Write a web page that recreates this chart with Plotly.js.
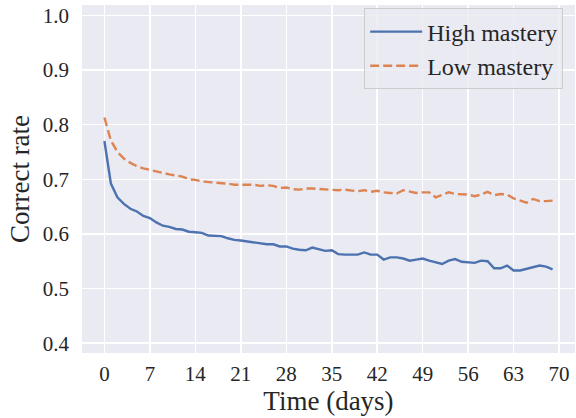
<!DOCTYPE html>
<html>
<head>
<meta charset="utf-8">
<script src="https://cdn.plot.ly/plotly-3.0.1.min.js"></script>
<style>
html,body{margin:0;padding:0;background:#ffffff;}
#chart{width:576px;height:418px;}
</style>
</head>
<body>
<div id="chart"></div>
<script>
var days = [];
for (var d = 0; d < 70; d++) { days.push(d); }

var highMastery = [
  0.770, 0.692, 0.667, 0.655, 0.646, 0.641, 0.633, 0.629, 0.621, 0.615,
  0.613, 0.609, 0.608, 0.604, 0.603, 0.602, 0.597, 0.596, 0.596, 0.592,
  0.589, 0.588, 0.586, 0.585, 0.582, 0.581, 0.581, 0.577, 0.577, 0.573,
  0.571, 0.570, 0.575, 0.572, 0.569, 0.570, 0.563, 0.562, 0.562, 0.562,
  0.566, 0.562, 0.562, 0.553, 0.557, 0.557, 0.555, 0.551, 0.553, 0.555,
  0.551, 0.548, 0.545, 0.551, 0.554, 0.549, 0.548, 0.547, 0.551, 0.550,
  0.537, 0.537, 0.542, 0.533, 0.533, 0.536, 0.539, 0.542, 0.540, 0.535
];

var lowMastery = [
  0.813, 0.771, 0.750, 0.738, 0.730, 0.724, 0.720, 0.717, 0.715, 0.712,
  0.709, 0.707, 0.705, 0.700, 0.699, 0.696, 0.695, 0.695, 0.694, 0.692,
  0.690, 0.690, 0.690, 0.690, 0.688, 0.689, 0.688, 0.684, 0.685, 0.682,
  0.681, 0.683, 0.683, 0.682, 0.681, 0.681, 0.680, 0.681, 0.679, 0.678,
  0.680, 0.677, 0.679, 0.676, 0.675, 0.674, 0.680, 0.677, 0.675, 0.676,
  0.676, 0.667, 0.671, 0.676, 0.673, 0.672, 0.672, 0.669, 0.672, 0.677,
  0.671, 0.673, 0.672, 0.665, 0.661, 0.657, 0.664, 0.660, 0.660, 0.661
];

var xTicks = [0, 7, 14, 21, 28, 35, 42, 49, 56, 63, 70];
var yTicks = [0.4, 0.5, 0.6, 0.7, 0.8, 0.9, 1.0];
var seriesNames = ["High mastery", "Low mastery"];

var FONT = "'Liberation Serif', serif";

var traces = [
  {x: days, y: highMastery, name: seriesNames[0], type: "scatter", mode: "lines",
   line: {color: "#4c72b0", width: 2.4}},
  {x: days, y: lowMastery, name: seriesNames[1], type: "scatter", mode: "lines",
   line: {color: "#dd8452", width: 2.4, dash: "9px,4px"}}
];

var layout = {
  width: 576, height: 418,
  margin: {l: 82, r: 1, t: 5, b: 65, pad: 0},
  paper_bgcolor: "#ffffff",
  plot_bgcolor: "#eaeaf2",
  font: {family: FONT, color: "#262626", size: 21},
  showlegend: true,
  legend: {
    x: 0.976, y: 0.99, xanchor: "right", yanchor: "top",
    bgcolor: "rgba(234,234,242,0.8)", bordercolor: "#cccccc", borderwidth: 1,
    font: {family: FONT, size: 24, color: "#262626"},
    tracegroupgap: 0, itemwidth: 52
  },
  xaxis: {
    range: [-3.45, 72.45],
    tickvals: xTicks,
    ticktext: xTicks.map(String),
    showgrid: true, gridcolor: "#ffffff", gridwidth: 1.5,
    zeroline: false, showline: false,
    ticks: "", ticklabelstandoff: 6,
    tickfont: {family: FONT, size: 21, color: "#262626"},
    title: {text: "Time (days)", font: {family: FONT, size: 27, color: "#262626"}, standoff: 1}
  },
  yaxis: {
    range: [0.382, 1.019],
    tickvals: yTicks,
    ticktext: yTicks.map(function(v){ return v.toFixed(1); }),
    showgrid: true, gridcolor: "#ffffff", gridwidth: 1.5,
    zeroline: false, showline: false,
    ticks: "", ticklabelstandoff: 12,
    tickfont: {family: FONT, size: 21, color: "#262626"},
    title: {text: "Correct rate", font: {family: FONT, size: 27, color: "#262626"}, standoff: 5}
  }
};

Plotly.newPlot("chart", traces, layout, {staticPlot: true, displayModeBar: false});
</script>
</body>
</html>
